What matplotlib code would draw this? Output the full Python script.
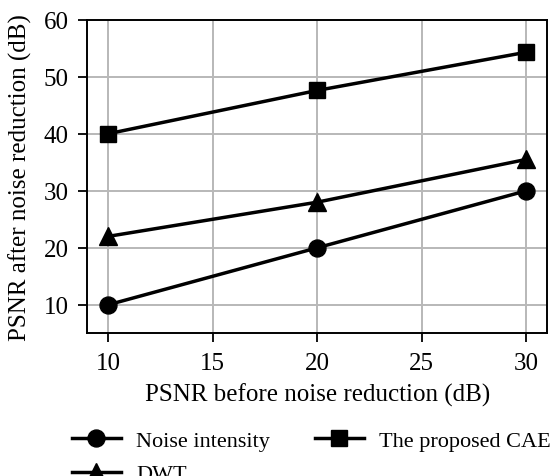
import matplotlib
matplotlib.use("Agg")
import matplotlib.pyplot as plt

plt.rcParams['font.family'] = ['Liberation Serif', 'DejaVu Serif']
plt.rcParams['mathtext.fontset'] = 'stix'

x_vals = [10, 20, 30]
noise_intensity = [10, 20, 30]
dwt = [22.0, 28.0, 35.5]
cae = [40.0, 47.6, 54.3]
labels = ["Noise intensity", "DWT", "The proposed CAE"]
xticks = [10, 15, 20, 25, 30]
yticks = [10, 20, 30, 40, 50, 60]

W, H = 555, 477
fig = plt.figure(figsize=(5.55, 4.77), dpi=100)
L, R, T, B = 87.3, 547.3, 20.7, 334.3
ax = fig.add_axes([L/W, 1-B/H, (R-L)/W, (B-T)/H])

fs = 18
lw = 2.5
ax.plot(x_vals, noise_intensity, color='black', lw=lw, marker='o', ms=12.2, label=labels[0])
ax.plot(x_vals, dwt, color='black', lw=lw, marker='^', ms=12.5, label=labels[1])
ax.plot(x_vals, cae, color='black', lw=lw, marker='s', ms=12, label=labels[2])

ax.set_xlim(9, 31)
ax.set_ylim(5, 60)
ax.set_xticks(xticks)
ax.set_yticks(yticks)
ax.grid(True, color='#b8b8b8', lw=1.4)
ax.set_axisbelow(True)
for s in ax.spines.values():
    s.set_linewidth(1.4)
ax.tick_params(labelsize=fs, width=1.3, length=6.5, pad=7)
ax.set_xlabel("PSNR before noise reduction (dB)", fontsize=fs, labelpad=6)
ax.set_ylabel("PSNR after noise reduction (dB)", fontsize=fs, labelpad=8)

fig.legend(loc='upper left', bbox_to_anchor=(72/W, 1-431/H), ncol=2, frameon=False,
           fontsize=16, handlelength=2.2, handletextpad=0.7, columnspacing=2.0,
           labelspacing=0.6, borderpad=0, borderaxespad=0)

fig.savefig("out.png", dpi=100)
